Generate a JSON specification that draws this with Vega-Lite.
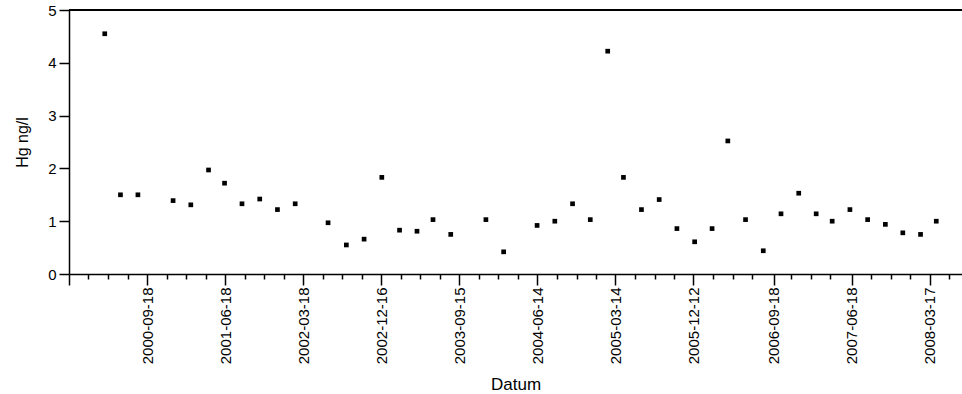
{
  "$schema": "https://vega.github.io/schema/vega-lite/v6.json",
  "width": 893,
  "height": 264,
  "autosize": {"type": "none"},
  "padding": {"left": 69, "top": 10, "right": 0, "bottom": 120},
  "background": "white",
  "config": {
    "view": {"stroke": null},
    "font": "Liberation Sans",
    "axis": {"grid": false, "domainColor": "black", "tickColor": "black", "labelColor": "black", "titleColor": "black", "labelFont": "Liberation Sans", "titleFont": "Liberation Sans", "titleFontWeight": "normal", "domainWidth": 1.5, "tickWidth": 1.5}
  },
  "data": {"values": [
    {"Datum": "2000-04-23", "Hg": 4.55},
    {"Datum": "2000-06-17", "Hg": 1.50},
    {"Datum": "2000-08-17", "Hg": 1.50},
    {"Datum": "2000-12-18", "Hg": 1.39},
    {"Datum": "2001-02-18", "Hg": 1.31},
    {"Datum": "2001-04-21", "Hg": 1.97},
    {"Datum": "2001-06-16", "Hg": 1.72},
    {"Datum": "2001-08-16", "Hg": 1.33},
    {"Datum": "2001-10-17", "Hg": 1.42},
    {"Datum": "2001-12-18", "Hg": 1.22},
    {"Datum": "2002-02-18", "Hg": 1.33},
    {"Datum": "2002-06-13", "Hg": 0.97},
    {"Datum": "2002-08-16", "Hg": 0.55},
    {"Datum": "2002-10-17", "Hg": 0.66},
    {"Datum": "2002-12-18", "Hg": 1.83},
    {"Datum": "2003-02-18", "Hg": 0.83},
    {"Datum": "2003-04-20", "Hg": 0.81},
    {"Datum": "2003-06-15", "Hg": 1.03},
    {"Datum": "2003-08-16", "Hg": 0.75},
    {"Datum": "2003-12-17", "Hg": 1.03},
    {"Datum": "2004-02-17", "Hg": 0.42},
    {"Datum": "2004-06-13", "Hg": 0.92},
    {"Datum": "2004-08-14", "Hg": 1.00},
    {"Datum": "2004-10-15", "Hg": 1.33},
    {"Datum": "2004-12-16", "Hg": 1.03},
    {"Datum": "2005-02-15", "Hg": 4.22},
    {"Datum": "2005-04-11", "Hg": 1.83},
    {"Datum": "2005-06-13", "Hg": 1.22},
    {"Datum": "2005-08-14", "Hg": 1.41},
    {"Datum": "2005-10-15", "Hg": 0.86},
    {"Datum": "2005-12-16", "Hg": 0.61},
    {"Datum": "2006-02-15", "Hg": 0.86},
    {"Datum": "2006-04-11", "Hg": 2.52},
    {"Datum": "2006-06-12", "Hg": 1.03},
    {"Datum": "2006-08-13", "Hg": 0.44},
    {"Datum": "2006-10-14", "Hg": 1.14},
    {"Datum": "2006-12-15", "Hg": 1.53},
    {"Datum": "2007-02-14", "Hg": 1.14},
    {"Datum": "2007-04-11", "Hg": 1.00},
    {"Datum": "2007-06-12", "Hg": 1.22},
    {"Datum": "2007-08-13", "Hg": 1.03},
    {"Datum": "2007-10-14", "Hg": 0.94},
    {"Datum": "2007-12-14", "Hg": 0.78},
    {"Datum": "2008-02-14", "Hg": 0.75},
    {"Datum": "2008-04-09", "Hg": 1.00}
  ]},
  "layer": [
    {
      "mark": {"type": "rule", "color": "black", "strokeWidth": 1.5},
      "encoding": {"y": {"datum": 5, "type": "quantitative"}}
    },
    {
      "mark": {"type": "point", "shape": "square", "filled": true, "color": "black", "size": 22, "opacity": 1},
      "encoding": {
        "x": {
          "field": "Datum", "type": "temporal",
          "scale": {"type": "utc", "domain": [{"year": 1999, "month": 12, "date": 20, "utc": true}, {"year": 2008, "month": 7, "date": 8, "utc": true}]},
          "axis": {
            "title": "Datum", "titleFontSize": 17, "titlePadding": 13,
            "labelAngle": 270, "labelFontSize": 15, "labelPadding": 2, "labelOverlap": false, "labelFlush": false,
            "values": [
              {"year": 1999, "month": 12, "date": 20, "utc": true},
              {"year": 2000, "month": 2, "date": 25, "utc": true},
              {"year": 2000, "month": 5, "date": 4, "utc": true},
              {"year": 2000, "month": 7, "date": 12, "utc": true},
              {"year": 2000, "month": 9, "date": 18, "utc": true},
              {"year": 2000, "month": 11, "date": 25, "utc": true},
              {"year": 2001, "month": 2, "date": 2, "utc": true},
              {"year": 2001, "month": 4, "date": 11, "utc": true},
              {"year": 2001, "month": 6, "date": 18, "utc": true},
              {"year": 2001, "month": 8, "date": 25, "utc": true},
              {"year": 2001, "month": 11, "date": 2, "utc": true},
              {"year": 2002, "month": 1, "date": 9, "utc": true},
              {"year": 2002, "month": 3, "date": 18, "utc": true},
              {"year": 2002, "month": 5, "date": 25, "utc": true},
              {"year": 2002, "month": 8, "date": 2, "utc": true},
              {"year": 2002, "month": 10, "date": 9, "utc": true},
              {"year": 2002, "month": 12, "date": 16, "utc": true},
              {"year": 2003, "month": 2, "date": 22, "utc": true},
              {"year": 2003, "month": 5, "date": 2, "utc": true},
              {"year": 2003, "month": 7, "date": 9, "utc": true},
              {"year": 2003, "month": 9, "date": 15, "utc": true},
              {"year": 2003, "month": 11, "date": 22, "utc": true},
              {"year": 2004, "month": 1, "date": 30, "utc": true},
              {"year": 2004, "month": 4, "date": 7, "utc": true},
              {"year": 2004, "month": 6, "date": 14, "utc": true},
              {"year": 2004, "month": 8, "date": 21, "utc": true},
              {"year": 2004, "month": 10, "date": 29, "utc": true},
              {"year": 2005, "month": 1, "date": 5, "utc": true},
              {"year": 2005, "month": 3, "date": 14, "utc": true},
              {"year": 2005, "month": 5, "date": 21, "utc": true},
              {"year": 2005, "month": 7, "date": 29, "utc": true},
              {"year": 2005, "month": 10, "date": 5, "utc": true},
              {"year": 2005, "month": 12, "date": 12, "utc": true},
              {"year": 2006, "month": 2, "date": 18, "utc": true},
              {"year": 2006, "month": 4, "date": 28, "utc": true},
              {"year": 2006, "month": 7, "date": 5, "utc": true},
              {"year": 2006, "month": 9, "date": 18, "utc": true},
              {"year": 2006, "month": 11, "date": 18, "utc": true},
              {"year": 2007, "month": 1, "date": 26, "utc": true},
              {"year": 2007, "month": 4, "date": 4, "utc": true},
              {"year": 2007, "month": 6, "date": 18, "utc": true},
              {"year": 2007, "month": 8, "date": 25, "utc": true},
              {"year": 2007, "month": 11, "date": 2, "utc": true},
              {"year": 2008, "month": 1, "date": 9, "utc": true},
              {"year": 2008, "month": 3, "date": 17, "utc": true},
              {"year": 2008, "month": 5, "date": 24, "utc": true}
            ],
            "labelExpr": "indexof(['2000-09-18','2001-06-18','2002-03-18','2002-12-16','2003-09-15','2004-06-14','2005-03-14','2005-12-12','2006-09-18','2007-06-18','2008-03-17'], utcFormat(datum.value, '%Y-%m-%d')) >= 0 ? utcFormat(datum.value, '%Y-%m-%d') : ''",
            "tickSize": {"condition": {"test": "indexof(['1999-12-20','2000-09-18','2001-06-18','2002-03-18','2002-12-16','2003-09-15','2004-06-14','2005-03-14','2005-12-12','2006-09-18','2007-06-18','2008-03-17'], utcFormat(datum.value, '%Y-%m-%d')) >= 0", "value": 11}, "value": 5}
          }
        },
        "y": {
          "field": "Hg", "type": "quantitative",
          "scale": {"domain": [0, 5], "nice": false, "zero": true},
          "axis": {
            "title": "Hg ng/l", "titleFontSize": 16, "titlePadding": 17,
            "labelFontSize": 15, "labelPadding": 3,
            "values": [0, 0.5, 1, 1.5, 2, 2.5, 3, 3.5, 4, 4.5, 5],
            "labelExpr": "datum.value % 1 == 0 ? format(datum.value, 'd') : ''",
            "tickSize": {"condition": {"test": "datum.value % 1 == 0", "value": 10}, "value": 5}
          }
        }
      }
    }
  ]
}
